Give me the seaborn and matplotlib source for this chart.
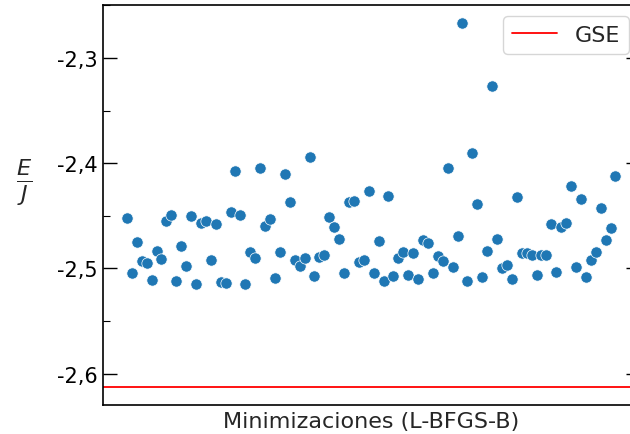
import numpy as np
import pandas as pd
import matplotlib
matplotlib.use("Agg")
import matplotlib.pyplot as plt
import seaborn as sns
from matplotlib.ticker import FuncFormatter, MultipleLocator

# Energía final por sitio de cada minimización (L-BFGS-B)
energias = [
    -2.452, -2.504, -2.475, -2.493, -2.495, -2.511, -2.483, -2.491, -2.455, -2.449,
    -2.512, -2.479, -2.498, -2.450, -2.515, -2.457, -2.455, -2.492, -2.458, -2.513,
    -2.514, -2.446, -2.4075, -2.449, -2.515, -2.484, -2.490, -2.4045, -2.460, -2.453,
    -2.509, -2.4845, -2.410, -2.437, -2.492, -2.498, -2.490, -2.394, -2.507, -2.489,
    -2.487, -2.451, -2.461, -2.472, -2.504, -2.437, -2.436, -2.494, -2.492, -2.426,
    -2.504, -2.474, -2.512, -2.431, -2.507, -2.490, -2.484, -2.506, -2.4855, -2.510,
    -2.473, -2.476, -2.504, -2.488, -2.493, -2.4045, -2.499, -2.469, -2.267, -2.512,
    -2.390, -2.439, -2.508, -2.4835, -2.327, -2.472, -2.500, -2.497, -2.510, -2.432,
    -2.4855, -2.485, -2.487, -2.506, -2.487, -2.487, -2.458, -2.503, -2.461, -2.457,
    -2.422, -2.499, -2.434, -2.508, -2.492, -2.484, -2.443, -2.473, -2.462, -2.412,
]
# Energía del estado fundamental
gse = -2.6125

etiqueta_x = "Minimizaciones (L-BFGS-B)"
etiqueta_y = r"$\frac{E}{J}$"
etiqueta_gse = "GSE"

sns.set_style("white")

fig = plt.figure(figsize=(6.3, 4.35), dpi=100)
ax = fig.add_axes([0.1627, 0.0667, 0.853, 0.9195])

df = pd.DataFrame({"corrida": np.arange(len(energias)), "E": energias})
sns.scatterplot(data=df, x="corrida", y="E", ax=ax, s=66, color="#1f77b4",
                edgecolor="white", linewidth=0.5, zorder=3)
ax.axhline(gse, color="red", lw=1.3, label=etiqueta_gse)

ax.set_xticks([])
ax.yaxis.set_major_locator(MultipleLocator(0.1))
ax.yaxis.set_minor_locator(MultipleLocator(0.05))
ax.yaxis.set_major_formatter(FuncFormatter(lambda v, p: f"{v:.1f}".replace(".", ",")))
ax.tick_params(axis="y", which="major", direction="in", length=10, width=1,
               left=True, right=True, labelsize=15, colors="black")
ax.tick_params(axis="y", which="minor", direction="in", length=5, width=0.8,
               left=True, right=True, colors="black")

for sp in ax.spines.values():
    sp.set_color("black")
    sp.set_linewidth(1.2)

ax.set_xlabel(etiqueta_x, fontsize=16)
ax.set_ylabel(etiqueta_y, rotation=0, fontsize=23, va="center", ha="center")
ax.yaxis.set_label_coords(-0.146, 0.56)

ax.legend(loc="upper right", fontsize=16)

fig.savefig("out.png", dpi=100)
